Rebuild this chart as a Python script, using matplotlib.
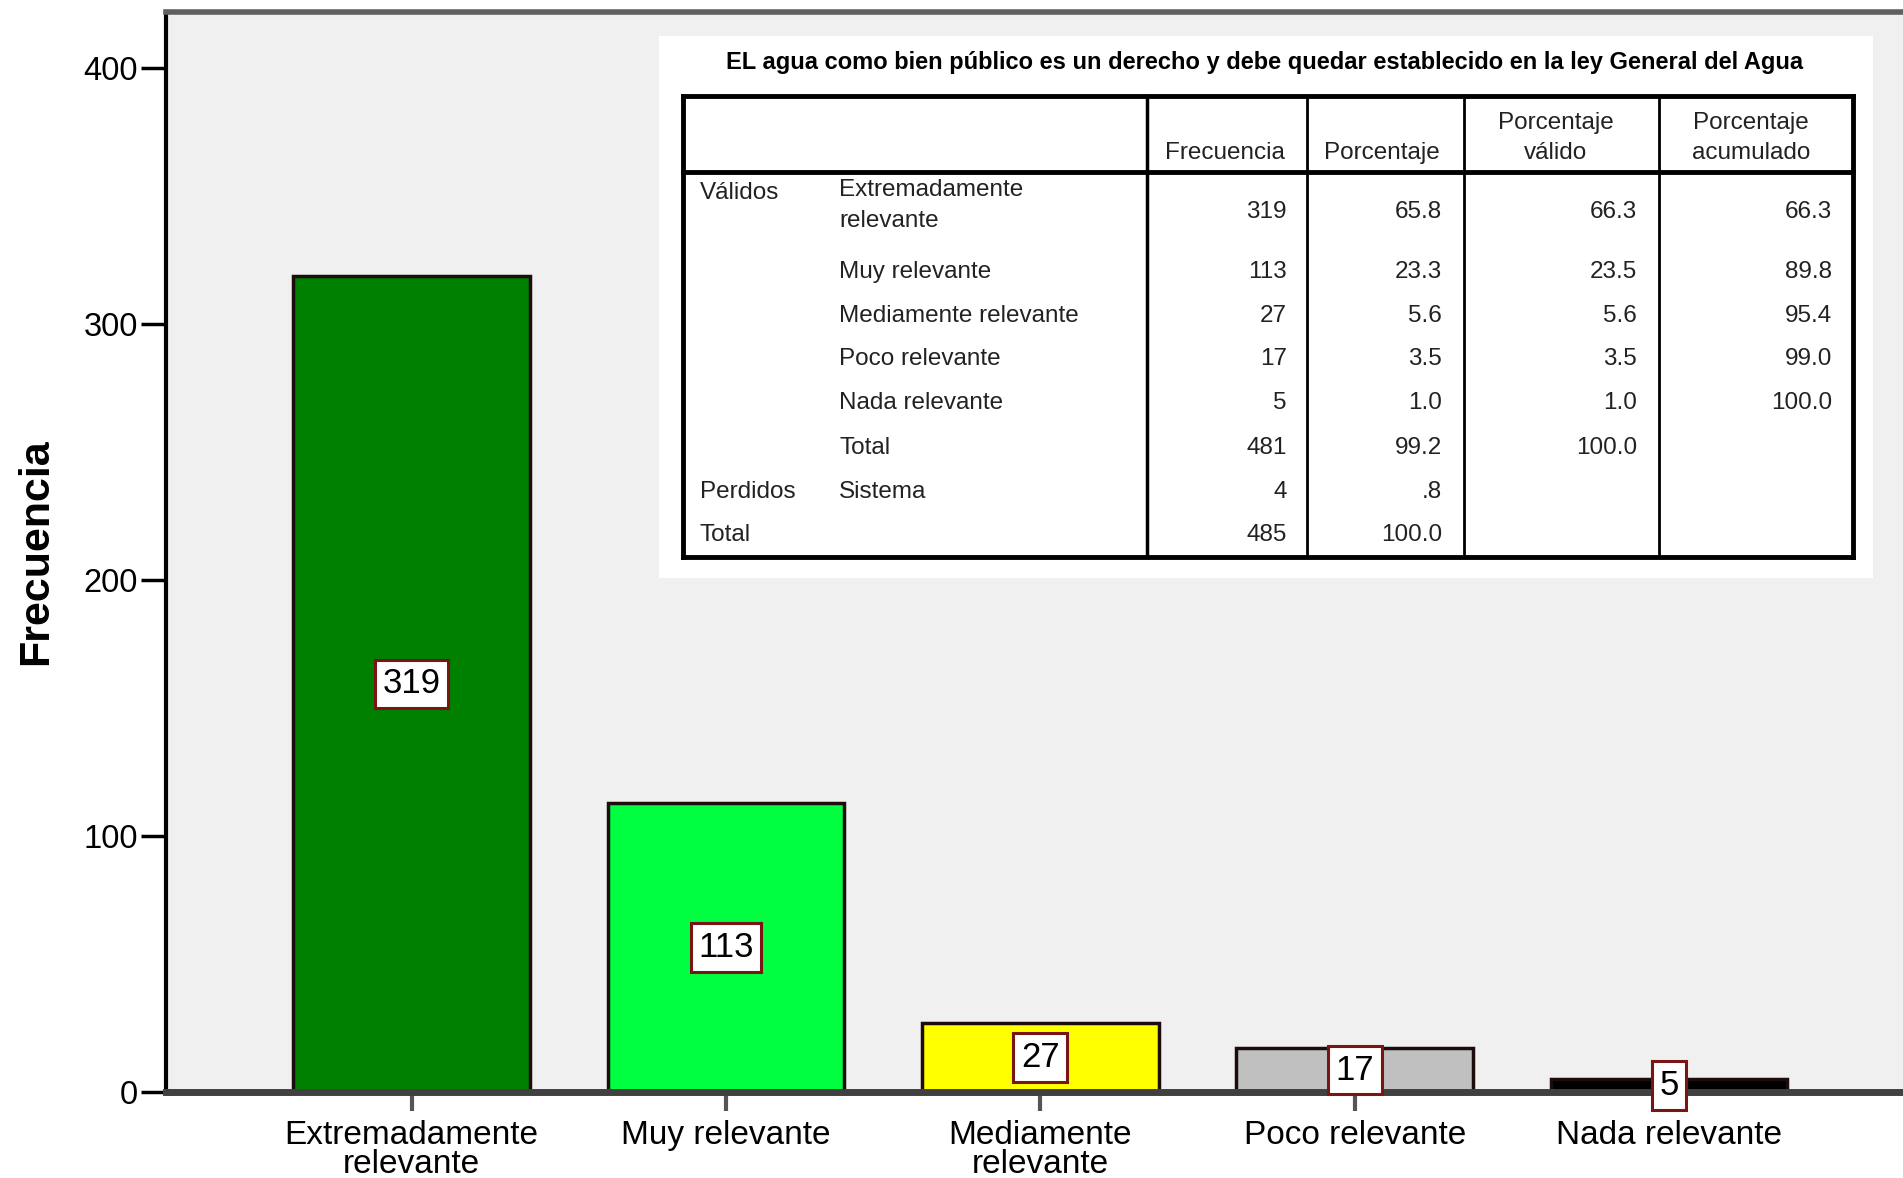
import numpy as np
import matplotlib
matplotlib.use("Agg")
import matplotlib.pyplot as plt
from matplotlib.patches import Rectangle
from matplotlib.lines import Line2D

# data
categorias = ["Extremadamente\nrelevante", "Muy relevante", "Mediamente\nrelevante",
              "Poco relevante", "Nada relevante"]
frecuencia = [319, 113, 27, 17, 5]
colores = ["#008000", "#00FF40", "#FFFF00", "#C0C0C0", "#000000"]

tabla_titulo = "EL agua como bien público es un derecho y debe quedar establecido en la ley General del Agua"
tabla_cols = ["Frecuencia", "Porcentaje", "Porcentaje\nválido", "Porcentaje\nacumulado"]
tabla_grupo = ["Válidos", "", "", "", "", "", "Perdidos", "Total"]
tabla_filas = ["Extremadamente\nrelevante", "Muy relevante", "Mediamente relevante",
               "Poco relevante", "Nada relevante", "Total", "Sistema", ""]
tabla_frec = ["319", "113", "27", "17", "5", "481", "4", "485"]
tabla_pct = ["65.8", "23.3", "5.6", "3.5", "1.0", "99.2", ".8", "100.0"]
tabla_valido = ["66.3", "23.5", "5.6", "3.5", "1.0", "100.0", "", ""]
tabla_acum = ["66.3", "89.8", "95.4", "99.0", "100.0", "", "", ""]

plt.rcParams["font.family"] = ["Liberation Sans", "DejaVu Sans"]

W, H = 1903, 1178
fig = plt.figure(figsize=(W / 100, H / 100), dpi=100)

def fx(px):
    return px / W

def fy(py):
    return 1 - py / H

ax = fig.add_axes([fx(166), fy(1092), 1 - fx(166) + 0.01, fy(12) - fy(1092)])
ax.set_facecolor("#F0F0F0")
x = np.arange(len(frecuencia))
ax.bar(x, frecuencia, width=0.753, color=colores, edgecolor="#1c0c0c", linewidth=2.5, zorder=2)
for xi, v in zip(x, frecuencia):
    ax.text(xi, v / 2, str(v), ha="center", va="center", fontsize=25, zorder=4,
            bbox=dict(boxstyle="square,pad=0.22", facecolor="white", edgecolor="#7a1515", linewidth=2.2))

ax.set_xlim(-0.781, 4.744 + 0.01 * W / 314.4)
ax.set_ylim(0, 422)
ax.set_yticks([0, 100, 200, 300, 400])
ax.set_xticks(x)
ax.set_xticklabels(categorias, fontsize=24, linespacing=0.92)
ax.tick_params(axis="y", labelsize=23.5, length=18, width=2.5, color="black", pad=2)
ax.tick_params(axis="x", length=14, width=3, color="#555555", pad=6)
ax.set_ylabel("Frecuencia", fontsize=31, fontweight="bold", labelpad=20)
ax.spines["right"].set_visible(False)
ax.spines["left"].set_linewidth(3)
ax.spines["left"].set_color("black")
ax.spines["bottom"].set_linewidth(5)
ax.spines["bottom"].set_color("#404040")
ax.spines["top"].set_linewidth(4)
ax.spines["top"].set_color("#606060")

# table drawn in figure pixels
fig.patches.append(Rectangle((fx(659), fy(578)), fx(1873) - fx(659), fy(36) - fy(578),
                             transform=fig.transFigure, facecolor="white", edgecolor="none", zorder=5))
fig.text(fx(1265), fy(62), tabla_titulo, ha="center", va="center", fontsize=17,
         fontweight="bold", zorder=7)

def hline(y, x0, x1, lw):
    fig.lines.append(Line2D([fx(x0), fx(x1)], [fy(y), fy(y)], transform=fig.transFigure,
                            color="black", linewidth=lw, zorder=6))

def vline(xp, y0, y1, lw):
    fig.lines.append(Line2D([fx(xp), fx(xp)], [fy(y0), fy(y1)], transform=fig.transFigure,
                            color="black", linewidth=lw, zorder=6))

tl, tr, tt, tb = 683, 1853, 96, 557
hline(tt, tl, tr, 3.5)
hline(tb, tl, tr, 3.5)
vline(tl, tt, tb, 3.5)
vline(tr, tt, tb, 3.5)
hline(172, tl, tr, 3.5)
for cx in [1147, 1307, 1464, 1659]:
    vline(cx, tt, tb, 2.5 if cx == 1147 else 2)

fs = 17.5
col_centros = [1225, 1382, 1556, 1751]
for c, t in zip(col_centros, tabla_cols):
    fig.text(fx(c), fy(164), t, ha="center", va="bottom", fontsize=fs,
             linespacing=1.45, color="#222222", zorder=7)

filas_y = [212, 272, 316, 359, 403, 448, 492, 535]
derechas = [1287, 1442, 1637, 1832]
for i, yv in enumerate(filas_y):
    yl = 193 if i == 0 else yv
    if tabla_grupo[i]:
        fig.text(fx(700), fy(yl), tabla_grupo[i], ha="left", va="center", fontsize=fs,
                 color="#222222", zorder=7)
    if i == 0:
        fig.text(fx(839), fy(179), tabla_filas[i], ha="left", va="top", fontsize=fs,
                 linespacing=1.55, color="#222222", zorder=7)
    elif tabla_filas[i]:
        fig.text(fx(839), fy(yv), tabla_filas[i], ha="left", va="center", fontsize=fs,
                 color="#222222", zorder=7)
    for xr, col in zip(derechas, [tabla_frec, tabla_pct, tabla_valido, tabla_acum]):
        if col[i]:
            fig.text(fx(xr), fy(yv), col[i], ha="right", va="center", fontsize=fs,
                     color="#222222", zorder=7)

fig.savefig("out.png", dpi=100)
